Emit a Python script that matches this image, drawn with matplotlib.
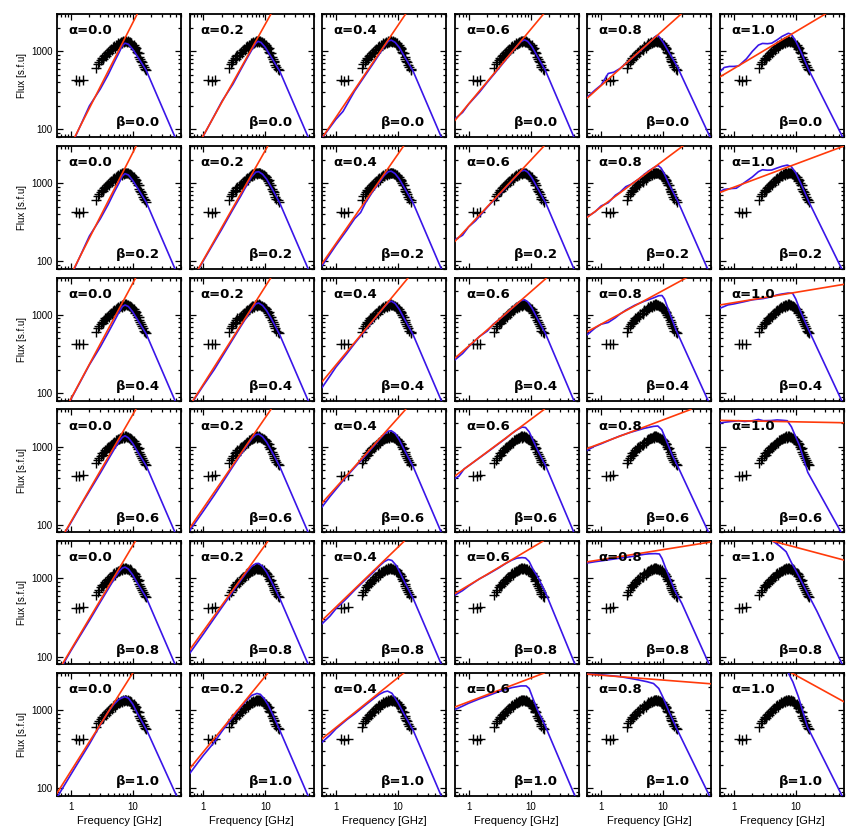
import matplotlib
matplotlib.use('Agg')
import matplotlib.pyplot as plt
from matplotlib.ticker import LogLocator, NullFormatter, FixedLocator, FixedFormatter

alphas = [0.0, 0.2, 0.4, 0.6, 0.8, 1.0]
betas = [0.0, 0.2, 0.4, 0.6, 0.8, 1.0]

# observed spectrum (crosses)
obs_freq = [1.20, 1.37, 1.55,
            2.60, 2.75, 2.90, 3.05, 3.20, 3.30, 3.40, 3.55, 3.70, 3.85, 4.00, 4.15,
            4.30, 4.50, 4.70, 4.85, 5.00, 5.20, 5.40, 5.60, 5.80, 6.00, 6.20, 6.40,
            6.60, 6.80, 7.00, 7.20, 7.40, 7.60, 7.80, 8.00, 8.30, 8.60, 8.90, 9.20,
            9.50, 9.80, 10.1, 10.4, 10.7, 11.0, 11.3, 11.6, 12.0, 12.4, 12.8, 13.2,
            13.6, 14.0, 14.5, 15.0, 16.0, 16.5]
obs_flux = [425, 420, 428,
            610, 680, 720, 770, 820, 790, 860, 900, 880, 950, 980, 950,
            1030, 1060, 1040, 1130, 1160, 1110, 1200, 1220, 1260, 1240, 1290, 1310,
            1280, 1330, 1350, 1310, 1360, 1340, 1360, 1330, 1340, 1300, 1310, 1260,
            1270, 1220, 1180, 1190, 1130, 1070, 1090, 990, 940, 950, 850, 800,
            760, 720, 670, 630, 600, 580]

# red curves (one per alpha), listed per beta row as (freq, flux) pairs
red_b00 = [[(1.16, 80), (11.8, 3000)], [(0.97, 80), (12.3, 3000)], [(0.63, 83), (13.3, 3000)],
           [(0.6, 130), (16.2, 3000)], [(0.6, 253), (19.5, 3000)], [(0.6, 471), (30, 3000)]]
red_b02 = [[(1.12, 80), (11.4, 3000)], [(0.83, 80), (11.0, 3000)], [(0.6, 94), (12.4, 3000)],
           [(0.6, 179), (16.6, 3000)], [(0.6, 366), (21, 3000)], [(0.6, 760), (60, 2980)]]
red_b04 = [[(0.97, 80), (11.2, 3000)], [(0.68, 80), (12.3, 3000)], [(0.6, 140), (14.7, 3000)],
           [(0.6, 279), (18.4, 3000)], [(0.6, 611), (24, 3000)], [(0.6, 1340), (60, 2460)]]
red_b06 = [[(0.8, 80), (11.2, 3000)], [(0.62, 94), (12.3, 3000)], [(0.6, 191), (13.3, 3000)],
           [(0.6, 421), (16.6, 3000)], [(0.6, 950), (28, 3000)], [(0.6, 2170), (60, 2025)]]
red_b08 = [[(0.73, 80), (11.0, 3000)], [(0.6, 121), (11.0, 3000)], [(0.6, 292), (12.6, 3000)],
           [(0.6, 641), (15.8, 3000)], [(0.6, 1635), (60, 2940)], [(4.3, 3000), (60, 1720)]]
red_b10 = [[(0.6, 87), (10.0, 3000)], [(0.6, 179), (11.0, 3000)], [(0.6, 434), (12.4, 3000)],
           [(0.6, 1100), (16.6, 3000)], [(0.6, 2900), (60, 2180)], [(8.6, 3000), (60, 1285)]]

# blue curves
blue_b00 = [
    [(1.18, 80), (2, 200), (3, 330), (4, 500), (5, 720), (6, 960), (6.8, 1180), (7.5, 1270),
     (8.5, 1230), (10, 1060), (12, 850), (16.5, 570), (48, 80)],
    [(0.98, 80), (1.5, 150), (2, 230), (3, 380), (4, 580), (5, 800), (6, 1030), (7, 1260),
     (7.6, 1340), (8.5, 1300), (10, 1120), (12, 880), (17, 560), (49, 80)],
    [(0.6, 78), (1, 135), (1.3, 170), (2, 310), (3, 500), (4, 700), (5, 920), (6, 1150),
     (7, 1350), (7.8, 1390), (9, 1300), (10.5, 1120), (12.5, 880), (17.5, 560), (50, 80)],
    [(0.6, 136), (0.8, 165), (1, 210), (1.5, 300), (2, 400), (3, 590), (4, 780), (5, 980),
     (6, 1160), (7, 1330), (8, 1400), (9, 1340), (10.5, 1150), (12.5, 900), (17.5, 560), (50, 80)],
    [(0.6, 260), (0.8, 320), (1, 370), (1.3, 520), (1.6, 540), (2, 600), (3, 790), (4, 960),
     (5, 1130), (6, 1300), (7, 1450), (7.8, 1590), (8.5, 1560), (10, 1300), (12.5, 960),
     (17, 630), (57, 80)],
    [(0.6, 546), (0.7, 620), (0.85, 640), (1.0, 640), (1.2, 650), (1.6, 800), (2, 1000),
     (2.5, 1200), (2.9, 1260), (3.5, 1250), (4.1, 1270), (5, 1400), (6, 1550), (7.6, 1700),
     (8.5, 1650), (10, 1350), (12, 1000), (16.3, 574), (57, 80)],
]
blue_b02 = [
    [(1.14, 80), (2, 210), (3, 350), (4, 530), (5, 760), (6, 1000), (6.8, 1230), (7.5, 1320),
     (8.5, 1270), (10, 1080), (12, 860), (16.5, 570), (48, 80)],
    [(0.84, 80), (1.2, 130), (2, 260), (3, 460), (4, 680), (5, 940), (6, 1200), (7, 1380),
     (7.8, 1400), (9, 1300), (10.5, 1120), (12.5, 880), (17, 560), (49, 80)],
    [(0.6, 88), (1, 160), (1.5, 250), (2, 350), (2.5, 420), (3, 560), (4, 800), (5, 1020),
     (6, 1250), (7, 1400), (7.8, 1420), (9, 1320), (10.5, 1130), (12.5, 890), (17.5, 560), (50, 80)],
    [(0.6, 188), (0.8, 215), (1, 275), (1.3, 330), (2, 490), (3, 690), (4, 880), (5, 1070),
     (6, 1250), (7, 1420), (8, 1460), (9, 1380), (10.5, 1170), (12.5, 910), (17.5, 560), (50, 80)],
    [(0.6, 370), (0.8, 430), (1, 510), (1.3, 560), (1.7, 700), (2, 760), (2.5, 900), (3, 960),
     (4, 1120), (5, 1300), (6, 1450), (7.5, 1620), (8.3, 1680), (9.3, 1550), (10.5, 1300),
     (12.5, 960), (17, 600), (52, 80)],
    [(0.6, 780), (0.7, 830), (0.9, 850), (1.1, 860), (1.5, 1020), (2, 1200), (2.5, 1400),
     (2.9, 1480), (3.5, 1460), (4.1, 1470), (5, 1560), (6, 1640), (7.3, 1700), (8.5, 1620),
     (10, 1350), (12, 1000), (16.3, 574), (55, 80)],
]
blue_b04 = [
    [(0.98, 80), (2, 230), (3, 390), (4, 590), (5, 820), (6, 1080), (6.8, 1280), (7.5, 1340),
     (8.5, 1280), (10, 1090), (12, 860), (16.5, 570), (48, 80)],
    [(0.69, 80), (1, 125), (1.5, 200), (2, 290), (3, 490), (4, 710), (5, 940), (6, 1170),
     (7, 1380), (7.8, 1420), (9, 1320), (10.5, 1130), (12.5, 890), (17, 560), (49, 80)],
    [(0.6, 118), (0.8, 165), (1, 215), (1.5, 320), (2, 430), (3, 640), (4, 850), (5, 1060),
     (6, 1260), (7, 1440), (7.8, 1500), (9, 1400), (10.5, 1180), (12.5, 910), (17.5, 560), (50, 80)],
    [(0.6, 265), (0.8, 320), (1, 390), (1.5, 530), (2, 620), (2.5, 760), (3, 850), (4, 1030),
     (5, 1210), (6, 1380), (7, 1520), (8, 1560), (9, 1470), (10.5, 1230), (12.5, 940),
     (17.5, 570), (50, 80)],
    [(0.6, 560), (0.8, 680), (1, 760), (1.3, 800), (1.7, 920), (2, 1020), (2.5, 1150),
     (3.5, 1330), (5, 1500), (7, 1650), (8.5, 1760), (9.6, 1770), (10.5, 1600), (12, 1200),
     (16, 650), (53, 80)],
    [(0.6, 1215), (0.8, 1340), (1, 1380), (1.5, 1480), (2, 1560), (3, 1620), (4, 1700),
     (5, 1800), (6, 1850), (7.5, 1900), (8.9, 1890), (10, 1600), (12, 1100), (15.7, 675), (55, 80)],
]
blue_b06 = [
    [(0.8, 78), (1.5, 185), (2, 270), (3, 460), (4, 680), (5, 920), (6, 1170), (6.8, 1320),
     (7.5, 1380), (8.5, 1300), (10, 1100), (12, 860), (16.5, 570), (48, 80)],
    [(0.6, 84), (1, 150), (1.5, 240), (2, 340), (3, 560), (4, 790), (5, 1020), (6, 1250),
     (7, 1420), (7.8, 1450), (9, 1340), (10.5, 1140), (12.5, 890), (17, 560), (49, 80)],
    [(0.6, 170), (0.8, 230), (1, 285), (1.5, 420), (2, 540), (3, 770), (4, 1000), (5, 1230),
     (6, 1440), (7, 1580), (7.8, 1600), (9, 1480), (10.5, 1230), (12.5, 930), (17.5, 560), (50, 80)],
    [(0.6, 390), (0.7, 420), (0.85, 520), (1, 570), (1.5, 720), (2, 850), (3, 1080), (4, 1280),
     (5, 1480), (6, 1640), (7.3, 1780), (8.3, 1760), (9.5, 1550), (11, 1200), (13, 900),
     (17.5, 570), (50, 80)],
    [(0.6, 900), (0.75, 1000), (1, 1090), (1.5, 1250), (2, 1370), (3, 1530), (5, 1720),
     (7, 1820), (8.2, 1840), (9.5, 1650), (11, 1250), (14, 780), (18, 520), (54, 80)],
    [(0.6, 2000), (0.7, 2050), (0.9, 2100), (1.2, 2150), (1.5, 2100), (2, 2150), (2.5, 2230),
     (3, 2150), (4, 2160), (5, 2200), (6, 2180), (7.3, 2150), (8.5, 1800), (11.5, 1035),
     (15.6, 471), (24.4, 249), (54, 80)],
]
blue_b08 = [
    [(0.74, 78), (1, 118), (2, 290), (3, 500), (4, 730), (5, 980), (6, 1220), (6.8, 1360),
     (7.5, 1400), (8.5, 1320), (10, 1110), (12, 860), (16.5, 570), (48, 80)],
    [(0.6, 110), (1, 195), (1.5, 310), (2, 430), (3, 680), (4, 940), (5, 1200), (6, 1420),
     (7, 1550), (7.8, 1560), (9, 1430), (10.5, 1200), (12.5, 920), (17, 560), (49, 80)],
    [(0.6, 264), (0.8, 330), (1, 410), (1.5, 560), (2, 710), (3, 970), (4, 1200), (5, 1440),
     (6, 1640), (7, 1750), (8, 1700), (9.5, 1450), (11, 1150), (13, 880), (17.5, 560), (50, 80)],
    [(0.6, 611), (0.8, 700), (1, 800), (1.5, 990), (2, 1120), (3, 1350), (4, 1560), (5, 1720),
     (6, 1820), (7.3, 1850), (8.3, 1830), (9.5, 1650), (11, 1300), (13.5, 1000), (18, 620),
     (52, 80)],
    [(0.6, 1580), (0.8, 1640), (1, 1680), (1.5, 1760), (2, 1820), (3, 1900), (4, 1980),
     (5, 2040), (6, 2070), (7.5, 2080), (8.7, 2060), (9.6, 1800), (11, 1350), (15.4, 700),
     (20, 480), (55, 80)],
    [(4.3, 3000), (5.5, 2600), (7, 2200), (8.5, 1600), (11, 1100), (15, 680), (22, 380), (56, 80)],
]
blue_b10 = [
    [(0.62, 80), (1, 150), (2, 370), (3, 650), (4, 950), (5, 1200), (6, 1380), (7.4, 1490),
     (8.5, 1430), (10, 1200), (12, 900), (16.8, 557), (51, 80)],
    [(0.6, 154), (0.8, 210), (1, 265), (1.5, 390), (2, 540), (3, 820), (4, 1100), (5, 1350),
     (6, 1550), (7.3, 1640), (8.3, 1600), (9.5, 1420), (11, 1180), (13, 900), (17, 560), (49, 80)],
    [(0.6, 392), (0.8, 480), (1, 580), (1.5, 760), (2, 900), (3, 1170), (4, 1400), (5, 1600),
     (6, 1720), (6.8, 1760), (8, 1650), (10, 1250), (12.5, 900), (17.5, 560), (50, 80)],
    [(0.6, 1020), (0.8, 1130), (1, 1230), (1.5, 1400), (2, 1520), (3, 1720), (5, 1950),
     (7, 2050), (8.5, 2050), (9.5, 1900), (11, 1400), (13, 1000), (16.6, 675), (52, 80)],
    [(0.6, 2900), (1, 2850), (2, 2700), (3.5, 2500), (5.5, 2320), (7, 2200), (8.5, 1900),
     (10, 1450), (12.5, 950), (17, 557), (56, 80)],
    [(7.6, 3000), (9, 2300), (11, 1500), (15.4, 615), (30, 215), (56, 80)],
]

red_rows = [red_b00, red_b02, red_b04, red_b06, red_b08, red_b10]
blue_rows = [blue_b00, blue_b02, blue_b04, blue_b06, blue_b08, blue_b10]

plt.rcParams['font.family'] = ['Liberation Sans', 'DejaVu Sans']
fig = plt.figure(figsize=(8.54, 8.35), dpi=100)

W, H = 854.0, 835.0
for r in range(6):
    for c in range(6):
        left = 57 + c * 132.6
        top = 14 + r * 131.8
        ax = fig.add_axes([left / W, 1 - (top + 123) / H, 124 / W, 123 / H])
        ax.set_xscale('log')
        ax.set_yscale('log')

        ax.plot(obs_freq, obs_flux, '+', color='black', ms=7.5, mew=1.0, zorder=2)
        bf, bs = zip(*blue_rows[r][c])
        ax.plot(bf, bs, color='#3a16e8', lw=1.2, zorder=3)
        rf, rs = zip(*red_rows[r][c])
        ax.plot(rf, rs, color='#ff3a0a', lw=1.2, zorder=4)

        ax.set_xlim(0.6, 60)
        ax.set_ylim(80, 3000)

        ax.xaxis.set_major_locator(FixedLocator([1, 10]))
        ax.xaxis.set_minor_locator(LogLocator(base=10, subs=range(2, 10)))
        ax.yaxis.set_major_locator(FixedLocator([100, 1000]))
        ax.yaxis.set_minor_locator(LogLocator(base=10, subs=range(2, 10)))
        ax.xaxis.set_minor_formatter(NullFormatter())
        ax.yaxis.set_minor_formatter(NullFormatter())
        ax.tick_params(which='both', direction='in', top=True, right=True, width=0.9)
        ax.tick_params(which='major', length=4.5)
        ax.tick_params(which='minor', length=2.2)
        for sp in ax.spines.values():
            sp.set_linewidth(1.3)

        if c == 0:
            ax.yaxis.set_major_formatter(FixedFormatter(['100', '1000']))
            ax.tick_params(axis='y', labelsize=7, pad=3)
            ax.set_ylabel('Flux [s.f.u]', fontsize=7, labelpad=3)
        else:
            ax.yaxis.set_major_formatter(NullFormatter())
        if r == 5:
            ax.xaxis.set_major_formatter(FixedFormatter(['1', '10']))
            ax.tick_params(axis='x', labelsize=7, pad=4)
            ax.set_xlabel('Frequency [GHz]', fontsize=8, labelpad=3)
        else:
            ax.xaxis.set_major_formatter(NullFormatter())

        ax.text(0.09, 0.865, '\u03b1=%.1f' % alphas[c], transform=ax.transAxes,
                fontsize=9.5, family='DejaVu Sans', weight='bold', va='center',
                ha='left', zorder=5)
        ax.text(0.83, 0.115, '\u03b2=%.1f' % betas[r], transform=ax.transAxes,
                fontsize=9.5, family='DejaVu Sans', weight='bold', va='center',
                ha='right', zorder=5)

fig.savefig('out.png', dpi=100)
